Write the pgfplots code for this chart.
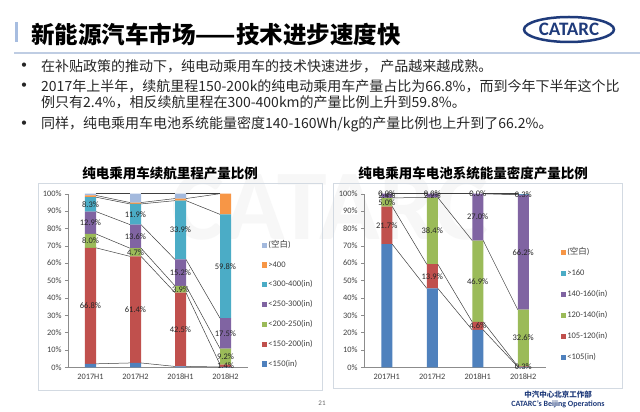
\documentclass[border=0pt]{standalone}
\usepackage{pgfplots}
\pgfplotsset{compat=1.18}
\usepackage{pgfplotstable}
\usepackage{fontspec}
\setmainfont{Carlito}
\newfontfamily\cjk{Noto Sans CJK SC}
\definecolor{cBlue}{HTML}{4F81BD}
\definecolor{cRed}{HTML}{C0504D}
\definecolor{cGreen}{HTML}{9BBB59}
\definecolor{cPurple}{HTML}{8064A2}
\definecolor{cTeal}{HTML}{4BACC6}
\definecolor{cOrange}{HTML}{F79646}
\definecolor{cLight}{HTML}{A3B9DD}
\definecolor{navy}{HTML}{1F3B7B}
\definecolor{txt}{HTML}{262626}
\definecolor{ticktxt}{HTML}{404040}
\definecolor{axl}{HTML}{8C8C8C}
\definecolor{titlebar}{HTML}{A7BDE0}
\definecolor{rule}{HTML}{BFCDE3}
\definecolor{frame}{HTML}{D3DAE2}

% range chart: stacked values (bottom to top)
\pgfplotstableread{
x a b c d e f g
0 2.0 66.8 8.0 12.9 8.3 1.0 1.0
1 2.5 61.4 4.7 13.6 11.9 0.8 5.1
2 0.5 42.5 3.9 15.2 33.9 1.2 2.8
3 0.2 1.4 9.2 17.5 59.8 11.9 0.0
}\rangetab
\pgfplotstableread{
x y v
0 35.4 66.8
0 72.8 8.0
0 83.25 12.9
0 93.85 8.3
1 33.2 61.4
1 66.25 4.7
1 75.4 13.6
1 88.15 11.9
2 21.75 42.5
2 44.95 3.9
2 54.5 15.2
2 79.05 33.9
3 0.9 1.4
3 6.2 9.2
3 19.55 17.5
3 58.2 59.8
}\rangelab
% density chart
\pgfplotstableread{
x a b c d e f
0 70.9 21.7 5.0 2.4 0.0 0.0
1 45.5 13.9 38.4 2.2 0.0 0.0
2 21.5 4.6 46.9 27.0 0.0 0.0
3 0.3 0.3 32.6 66.2 0.3 0.3
}\denstab
\pgfplotstableread{
x y v
0 81.75 21.7
0 95.1 5.0
0 98.8 2.4
0 100 0.0
1 52.45 13.9
1 78.6 38.4
1 98.9 2.2
1 100 0.0
2 23.8 4.6
2 49.55 46.9
2 86.5 27.0
2 100 0.0
3 0.45 0.3
3 16.9 32.6
3 66.3 66.2
3 99.55 0.3
}\denslab

\pgfplotsset{
  /pgf/number format/assume math mode=true,
  base/.style={scale only axis, height=173.6pt, xmin=-0.5, xmax=3.5, ymin=0, ymax=100},
  barax/.style={base, ybar stacked, bar width=11pt,
    axis x line*=bottom, axis y line*=left, axis line style={axl},
    xtick={0,1,2,3}, xticklabels={2017H1,2017H2,2018H1,2018H2},
    x tick style={draw=none},
    ytick={0,10,...,100}, yticklabel={\pgfmathprintnumber{\tick}\%},
    y tick style={axl}, tick align=outside, major tick length=3pt,
    tick label style={font=\fontsize{8.3}{9}\selectfont, text=ticktxt},
    reverse legend,
    legend cell align=left,
    legend style={draw=none, fill=none, inner sep=0pt,
      font=\fontsize{8.5}{9}\selectfont, text=ticktxt,
      nodes={inner sep=1pt, text height=6pt, text depth=2pt}},
  },
  sq/.style={draw=none, fill=#1,
    legend image code/.code={\fill[#1] (0pt,-2.6pt) rectangle (5.2pt,2.6pt);}},
  sl/.style={black!75, line width=0.5pt, mark=none, forget plot},
  lab/.style={draw=none, mark=none, forget plot, point meta=explicit,
    nodes near coords={\pgfmathprintnumber[fixed,fixed zerofill,precision=1]{\pgfplotspointmeta}\%},
    nodes near coords align=center,
    every node near coord/.append style={font=\fontsize{8.5}{9}\selectfont, text=txt, inner sep=0pt}},
}

\begin{document}
\begin{tikzpicture}[x=1pt,y=1pt]
\path[use as bounding box, fill=white] (0,0) rectangle (640,412);
% faint watermark
\node[text=black!3, font=\fontsize{100}{100}\selectfont\bfseries] at (330,205) {CATARC};
% title
\fill[titlebar] (15,370) rectangle (18,390);
\node[anchor=west, inner sep=0pt, font=\cjk\bfseries\fontsize{23.5}{26}\selectfont] at (31,378) {新能源汽车市场——技术进步速度快};
\draw[rule, line width=1.5pt] (14,359) -- (640,359);
% logo
\draw[navy, line width=2.5pt] (569,382.5) ellipse [x radius=45, y radius=12.5];
\node[navy, font=\bfseries\fontsize{19}{20}\selectfont] at (569,382.5) {CATARC};
% bullets
\begin{scope}[every node/.style={anchor=west, inner sep=0pt, text=txt, font=\cjk\fontsize{14}{16}\selectfont}]
\node[font=\fontsize{12}{12}\selectfont] at (21,346) {•};
\node at (41,346) {在补贴政策的推动下，纯电动乘用车的技术快速进步， 产品越来越成熟。};
\node[font=\fontsize{12}{12}\selectfont] at (21,326) {•};
\node at (41,326) {2017年上半年，续航里程150-200k的纯电动乘用车产量占比为66.8\%，而到今年下半年这个比};
\node at (41,310) {例只有2.4\%，相反续航里程在300-400km的产量比例上升到59.8\%。};
\node[font=\fontsize{12}{12}\selectfont] at (21,288) {•};
\node at (41,288) {同样，纯电乘用车电池系统能量密度140-160Wh/kg的产量比例也上升到了66.2\%。};
\end{scope}
% chart frames
\draw[frame, line width=0.8pt] (38,229) rectangle (322,22);
\draw[frame, line width=0.8pt] (333,229) rectangle (622,24);
% chart titles
\node[font=\cjk\bfseries\fontsize{13.5}{15}\selectfont] at (170,239) {纯电乘用车续航里程产量比例};
\node[font=\cjk\bfseries\fontsize{13.5}{15}\selectfont] at (473,239) {纯电乘用车电池系统能量密度产量比例};

% ---------- chart 1 ----------
\begin{axis}[barax, width=180pt, at={(68pt,44.7pt)}, anchor=south west,
  legend style={at={(axis description cs:1.078,0.733)}, anchor=north west, row sep=9.8pt}]
\addplot[sq=cBlue] table[x=x,y=a]{\rangetab}; \addlegendentry{<150(in)}
\addplot[sq=cRed] table[x=x,y=b]{\rangetab}; \addlegendentry{<150-200(in)}
\addplot[sq=cGreen] table[x=x,y=c]{\rangetab}; \addlegendentry{<200-250(in)}
\addplot[sq=cPurple] table[x=x,y=d]{\rangetab}; \addlegendentry{<250-300(in)}
\addplot[sq=cTeal] table[x=x,y=e]{\rangetab}; \addlegendentry{<300-400(in)}
\addplot[sq=cOrange] table[x=x,y=f]{\rangetab}; \addlegendentry{>400}
\addplot[sq=cLight] table[x=x,y=g]{\rangetab}; \addlegendentry{({\cjk 空白})}
\end{axis}
\begin{axis}[base, width=180pt, at={(68pt,44.7pt)}, anchor=south west, hide axis, unbounded coords=jump, clip=false]
\addplot[sl] coordinates {(0.122,2.0) (0.878,2.5) (1,nan) (1.122,2.5) (1.878,0.5) (2,nan) (2.122,0.5) (2.878,0.2)};
\addplot[sl] coordinates {(0.122,68.8) (0.878,63.9) (1,nan) (1.122,63.9) (1.878,43.0) (2,nan) (2.122,43.0) (2.878,1.6)};
\addplot[sl] coordinates {(0.122,76.8) (0.878,68.6) (1,nan) (1.122,68.6) (1.878,46.9) (2,nan) (2.122,46.9) (2.878,10.8)};
\addplot[sl] coordinates {(0.122,89.7) (0.878,82.2) (1,nan) (1.122,82.2) (1.878,62.1) (2,nan) (2.122,62.1) (2.878,28.3)};
\addplot[sl] coordinates {(0.122,98.0) (0.878,94.1) (1,nan) (1.122,94.1) (1.878,96.0) (2,nan) (2.122,96.0) (2.878,88.1)};
\addplot[sl] coordinates {(0.122,99.0) (0.878,94.9) (1,nan) (1.122,94.9) (1.878,97.2) (2,nan) (2.122,97.2) (2.878,100)};
\addplot[sl] coordinates {(0.122,100) (0.878,100) (1,nan) (1.122,100) (1.878,100) (2,nan) (2.122,100) (2.878,100)};
\addplot[lab] table[x=x,y=y,meta=v]{\rangelab};
\end{axis}

% ---------- chart 2 ----------
\begin{axis}[barax, width=182pt, at={(364pt,44.7pt)}, anchor=south west,
  legend style={at={(axis description cs:1.082,0.693)}, anchor=north west, row sep=11pt}]
\addplot[sq=cBlue] table[x=x,y=a]{\denstab}; \addlegendentry{<105(in)}
\addplot[sq=cRed] table[x=x,y=b]{\denstab}; \addlegendentry{105-120(in)}
\addplot[sq=cGreen] table[x=x,y=c]{\denstab}; \addlegendentry{120-140(in)}
\addplot[sq=cPurple] table[x=x,y=d]{\denstab}; \addlegendentry{140-160(in)}
\addplot[sq=cTeal] table[x=x,y=e]{\denstab}; \addlegendentry{>160}
\addplot[sq=cOrange] table[x=x,y=f]{\denstab}; \addlegendentry{({\cjk 空白})}
\end{axis}
\begin{axis}[base, width=182pt, at={(364pt,44.7pt)}, anchor=south west, hide axis, unbounded coords=jump, clip=false]
\addplot[sl] coordinates {(0.121,70.9) (0.879,45.5) (1,nan) (1.121,45.5) (1.879,21.5) (2,nan) (2.121,21.5) (2.879,0.3)};
\addplot[sl] coordinates {(0.121,92.6) (0.879,59.4) (1,nan) (1.121,59.4) (1.879,26.1) (2,nan) (2.121,26.1) (2.879,0.6)};
\addplot[sl] coordinates {(0.121,97.6) (0.879,97.8) (1,nan) (1.121,97.8) (1.879,73.0) (2,nan) (2.121,73.0) (2.879,33.2)};
\addplot[sl] coordinates {(0.121,100) (0.879,100) (1,nan) (1.121,100) (1.879,100) (2,nan) (2.121,100) (2.879,99.4)};
\addplot[sl] coordinates {(0.121,100) (0.879,100) (1,nan) (1.121,100) (1.879,100) (2,nan) (2.121,100) (2.879,99.7)};
\addplot[sl] coordinates {(0.121,100) (0.879,100) (1,nan) (1.121,100) (1.879,100) (2,nan) (2.121,100) (2.879,100)};
\addplot[lab] table[x=x,y=y,meta=v]{\denslab};
\end{axis}

% footer
\node[navy, font=\cjk\bfseries\fontsize{7.5}{8}\selectfont] at (558,17) {中汽中心北京工作部};
\node[navy, font=\bfseries\fontsize{8}{9}\selectfont] at (558,8) {CATARC's Beijing Operations};
\node[black!60, font=\fontsize{7}{8}\selectfont] at (322,9) {21};
\end{tikzpicture}
\end{document}
